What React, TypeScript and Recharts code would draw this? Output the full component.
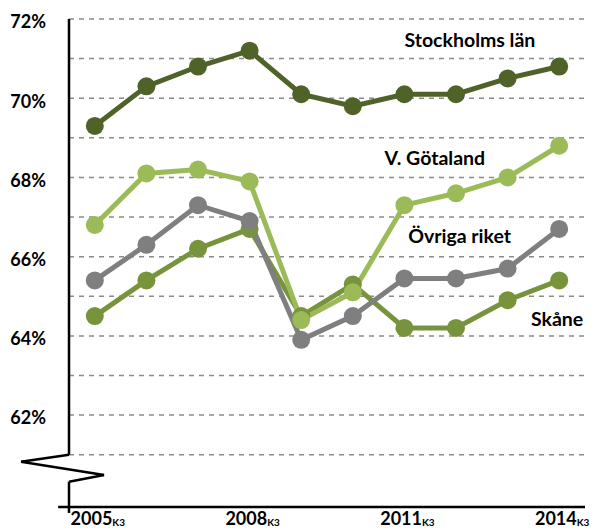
import React from 'react';
import {
  LineChart,
  Line,
  XAxis,
  YAxis,
  CartesianGrid,
  ReferenceLine,
  ReferenceDot,
} from 'recharts';

const years = [2005, 2006, 2007, 2008, 2009, 2010, 2011, 2012, 2013, 2014];
const stockholm = [69.3, 70.3, 70.8, 71.2, 70.1, 69.8, 70.1, 70.1, 70.5, 70.8];
const vGotaland = [66.8, 68.1, 68.2, 67.9, 64.4, 65.1, 67.3, 67.6, 68.0, 68.8];
const ovriga = [65.4, 66.3, 67.3, 66.9, 63.9, 64.5, 65.45, 65.45, 65.7, 66.7];
const skane = [64.5, 65.4, 66.2, 66.7, 64.5, 65.3, 64.2, 64.2, 64.9, 65.4];

const xTicks = [2005, 2008, 2011, 2014];
const yTicks = [61, 62, 63, 64, 65, 66, 67, 68, 69, 70, 71, 72];
const yLabelled = [62, 64, 66, 68, 70, 72];

// series name, key, colour, label anchor (year, value)
const seriesInfo = [
  { key: 'stockholm', name: 'Stockholms län', color: '#4f6228', lx: 2012.27, ly: 71.3 },
  { key: 'skane', name: 'Skåne', color: '#77933c', lx: 2013.96, ly: 64.25 },
  { key: 'ovriga', name: 'Övriga riket', color: '#7f7f7f', lx: 2012.07, ly: 66.35 },
  { key: 'vGotaland', name: 'V. Götaland', color: '#9bbb59', lx: 2011.59, ly: 68.32 },
];

const data = years.map((year, i) => ({
  year,
  stockholm: stockholm[i],
  vGotaland: vGotaland[i],
  ovriga: ovriga[i],
  skane: skane[i],
}));

const FONT = 'Lato, "Open Sans", sans-serif';
const X_MIN = 2004.5;
const X_MAX = 2014.5;
const Y_MIN = 59.68;
const Y_MAX = 72;

// y axis with a break (zigzag), in data units
const axisPath: [number, number][] = [
  [X_MIN, Y_MAX],
  [X_MIN, 61.0],
  [2003.57, 60.82],
  [2005.18, 60.49],
  [X_MIN, 60.32],
  [X_MIN, 59.53],
];

function YTick(props: any) {
  const { x, y, payload } = props;
  if (!yLabelled.includes(payload.value)) return <g />;
  return (
    <text x={x} y={y + 3} dy="0.355em" textAnchor="end" fontFamily={FONT} fontWeight={700} fontSize={18} fill="#000">
      {payload.value}%
    </text>
  );
}

function XTick(props: any) {
  const { x, y, payload } = props;
  return (
    <text x={x + 3} y={y + 18} textAnchor="middle" fontFamily={FONT} fontWeight={700} fontSize={18} fill="#000">
      <tspan>{payload.value}</tspan>
      <tspan fontSize={10} dy={1}>K3</tspan>
    </text>
  );
}

export default function App() {
  return (
    <div style={{ position: 'absolute', left: 0, top: 0, background: '#fff' }}>
      <LineChart width={593} height={529} data={data} margin={{ top: 19, right: 8, left: 0, bottom: 0 }}>
        <CartesianGrid vertical={false} stroke="#8c8c8c" strokeWidth={1.5} strokeDasharray="5 5" />
        <XAxis
          dataKey="year"
          type="number"
          domain={[X_MIN, X_MAX]}
          ticks={xTicks}
          axisLine={false}
          tickLine={false}
          tickSize={0}
          tickMargin={0}
          height={22}
          tick={<XTick />}
        />
        <YAxis
          type="number"
          domain={[Y_MIN, Y_MAX]}
          ticks={yTicks}
          axisLine={false}
          tickLine={false}
          tickSize={0}
          tickMargin={23}
          width={69}
          tick={<YTick />}
        />
        {axisPath.slice(1).map((p, i) => (
          <ReferenceLine
            key={'ax' + i}
            segment={[
              { x: axisPath[i][0], y: axisPath[i][1] },
              { x: p[0], y: p[1] },
            ]}
            stroke="#000"
            strokeWidth={2.5}
            ifOverflow="visible"
          />
        ))}
        <ReferenceLine
          segment={[
            { x: 2004.29, y: Y_MIN },
            { x: X_MAX, y: Y_MIN },
          ]}
          stroke="#000"
          strokeWidth={2.5}
          ifOverflow="visible"
        />
        {seriesInfo.map(s => (
          <Line
            key={s.key}
            type="linear"
            dataKey={s.key}
            stroke={s.color}
            strokeWidth={5}
            dot={{ r: 9, fill: s.color, stroke: 'none' }}
            activeDot={false}
            isAnimationActive={false}
          />
        ))}
        {seriesInfo.map(s => (
          <ReferenceDot
            key={'lbl' + s.key}
            x={s.lx}
            y={s.ly}
            r={0}
            shape={(p: any) => (
              <text x={p.cx} y={p.cy} textAnchor="middle" fontFamily={FONT} fontWeight={700} fontSize={19.5} fill="#000">
                {s.name}
              </text>
            )}
          />
        ))}
      </LineChart>
    </div>
  );
}
